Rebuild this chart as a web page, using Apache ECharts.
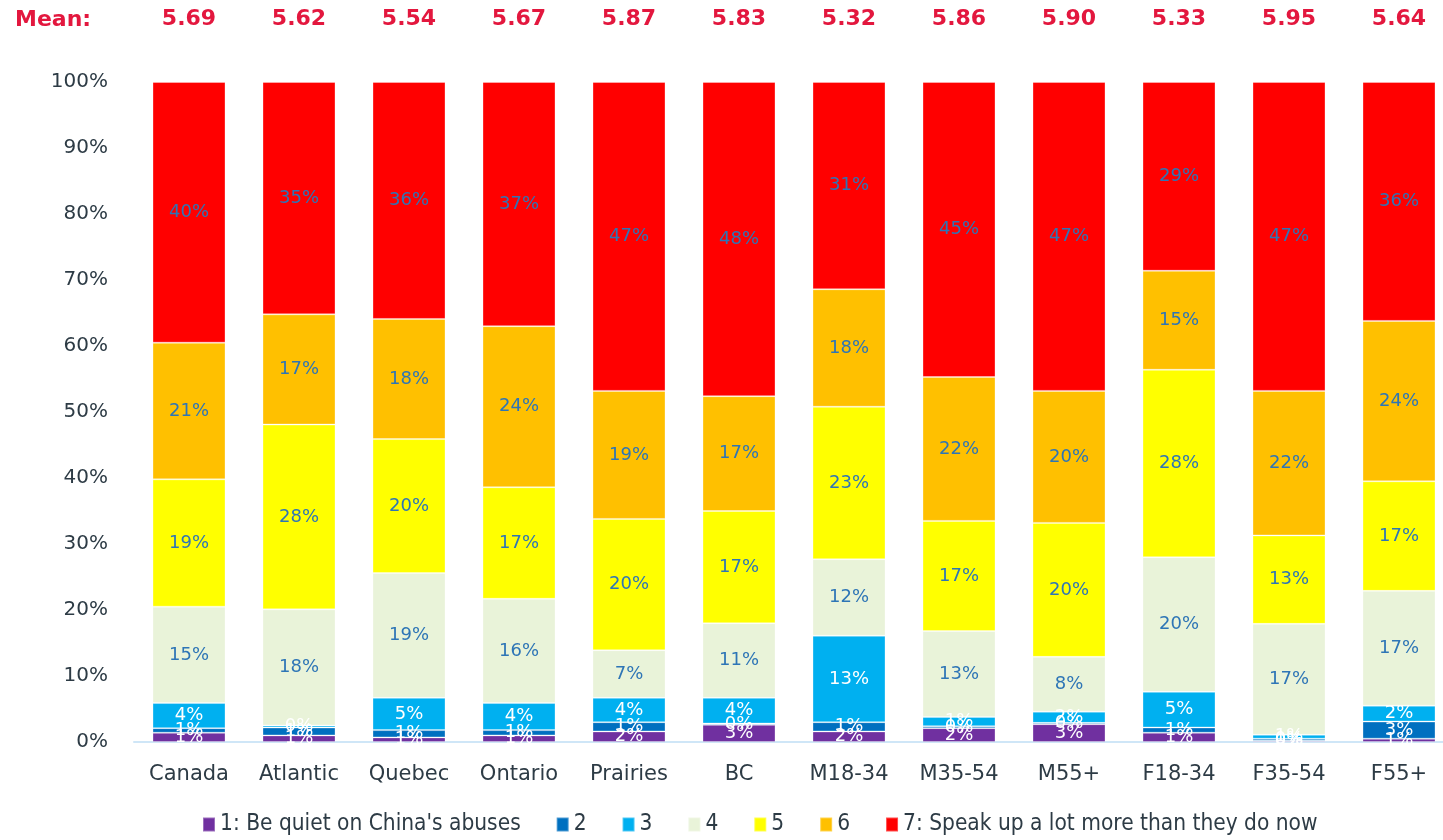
<!DOCTYPE html>
<html>
<head>
<meta charset="utf-8">
<script src="https://cdn.jsdelivr.net/npm/echarts@6/dist/echarts.min.js"></script>
<style>
html, body { margin: 0; padding: 0; background: #fff; }
#main { width: 1443px; height: 840px; }
</style>
</head>
<body>
<div id="main"></div>
<script>
// categories and means
var categories = ['Canada', 'Atlantic', 'Quebec', 'Ontario', 'Prairies', 'BC', 'M18-34', 'M35-54', 'M55+', 'F18-34', 'F35-54', 'F55+'];
var means = ['5.69', '5.62', '5.54', '5.67', '5.87', '5.83', '5.32', '5.86', '5.90', '5.33', '5.95', '5.64'];

// share of answers per scale point (%)
var s1 = [1.4, 1.0, 0.7, 1.0, 1.6, 2.6, 1.6, 2.1, 2.7, 1.4, 0.2, 0.5];
var s2 = [0.7, 1.2, 1.1, 0.8, 1.4, 0.2, 1.4, 0.3, 0.2, 0.8, 0.3, 2.6];
var s3 = [3.8, 0.3, 4.9, 4.1, 3.7, 3.9, 13.1, 1.4, 1.7, 5.4, 0.6, 2.4];
var s4 = [14.6, 17.6, 18.9, 15.8, 7.2, 11.3, 11.6, 13.0, 8.3, 20.4, 16.8, 17.4];
var s5 = [19.3, 28.0, 20.3, 16.9, 19.9, 17.0, 23.1, 16.7, 20.3, 28.4, 13.4, 16.6];
var s6 = [20.7, 16.7, 18.2, 24.4, 19.4, 17.4, 17.8, 21.8, 20.0, 15.0, 21.9, 24.3];
var s7 = [39.5, 35.2, 35.9, 37.0, 46.8, 47.6, 31.4, 44.7, 46.8, 28.6, 46.8, 36.2];

var seriesNames = ["1: Be quiet on China's abuses", '2', '3', '4', '5', '6', '7: Speak up a lot more than they do now'];
var seriesData = [s1, s2, s3, s4, s5, s6, s7];
var colors = ['#7030a0', '#0070c0', '#00b0f0', '#e9f3d9', '#ffff00', '#ffc000', '#ff0000'];

var chart = echarts.init(document.getElementById('main'));

var series = seriesData.map(function(d, i) {
	return {
		name: seriesNames[i],
		type: 'bar',
		stack: 'total',
		barWidth: 73,
		data: d,
		itemStyle: {
			color: colors[i],
			borderColor: 'rgba(255,255,255,0.3)',
			borderWidth: 1
		},
		label: {
			show: true,
			position: 'inside',
			fontFamily: 'DejaVu Sans',
			fontSize: 18,
			color: i < 3 ? '#ffffff' : '#2e75b6',
			formatter: function(p) {
				return Math.round(p.value) + '%';
			}
		}
	};
});

chart.setOption({
	animation: false,
	color: colors,
	title: {
		text: 'Mean:',
		left: 10,
		top: 4,
		textStyle: {
			fontFamily: 'DejaVu Sans',
			fontSize: 22,
			fontWeight: 'bold',
			color: '#e3173e'
		}
	},
	grid: {
		left: 134,
		width: 1320,
		top: 82,
		bottom: 98,
		outerBoundsMode: 'none'
	},
	legend: {
		top: 808,
		left: 197,
		itemWidth: 12,
		itemHeight: 14,
		itemGap: 35,
		icon: 'rect',
		textStyle: {
			fontFamily: 'DejaVu Sans Condensed, Liberation Sans Narrow, DejaVu Sans',
			fontSize: 22.5,
			color: '#2d3b45'
		},
		data: seriesNames
	},
	xAxis: [
		{
			type: 'category',
			data: categories,
			axisLine: { lineStyle: { color: '#cfe6f7', width: 2 } },
			axisTick: { show: false },
			axisLabel: {
				margin: 22,
				fontFamily: 'DejaVu Sans',
				fontSize: 21,
				color: '#2d3b45'
			}
		},
		{
			type: 'category',
			position: 'top',
			data: categories,
			axisLine: { show: false },
			axisTick: { show: false },
			axisLabel: {
				margin: 52,
				fontFamily: 'DejaVu Sans',
				fontSize: 22,
				fontWeight: 'bold',
				color: '#e3173e',
				formatter: function(v, i) {
					return means[i];
				}
			}
		}
	],
	yAxis: {
		type: 'value',
		min: 0,
		max: 100,
		interval: 10,
		splitLine: { show: false },
		axisLine: { show: false },
		axisTick: { show: false },
		axisLabel: {
			margin: 26,
			fontFamily: 'DejaVu Sans',
			fontSize: 20,
			color: '#2d3b45',
			formatter: '{value}%'
		}
	},
	series: series
});
</script>
</body>
</html>
